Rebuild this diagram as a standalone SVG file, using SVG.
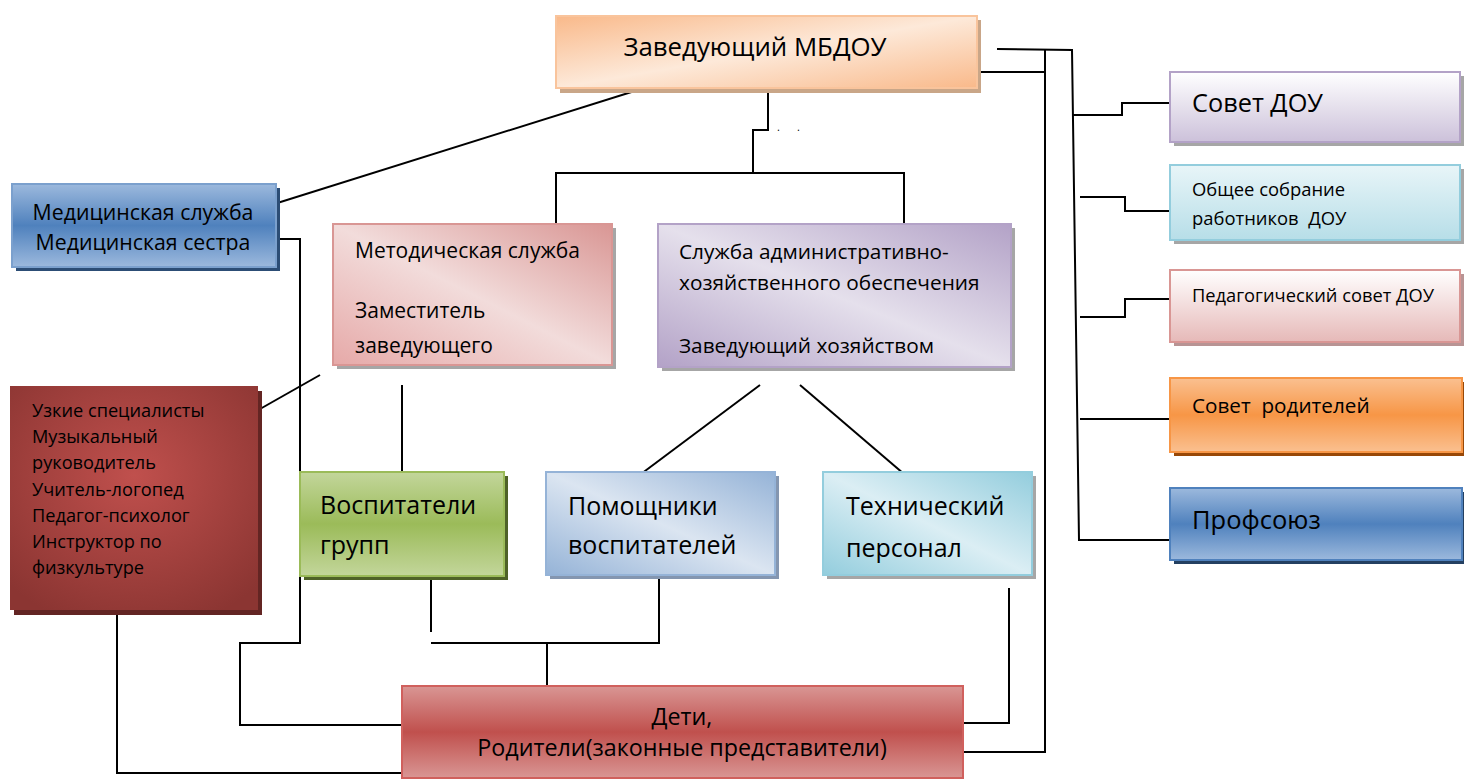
<svg xmlns="http://www.w3.org/2000/svg" width="1464" height="779" viewBox="0 0 1464 779">
<defs>
<linearGradient id="gTop" x1="0" y1="0" x2="1" y2="1"><stop offset="0" stop-color="#f9b98a"/><stop offset="0.5" stop-color="#fde9d9"/><stop offset="1" stop-color="#f9b98a"/></linearGradient>
<linearGradient id="gBlueV" x1="0" y1="0" x2="0" y2="1"><stop offset="0" stop-color="#9cb9dd"/><stop offset="0.5" stop-color="#4f81bd"/><stop offset="1" stop-color="#9cb9dd"/></linearGradient>
<linearGradient id="gPink" x1="0" y1="1" x2="1" y2="0"><stop offset="0" stop-color="#e6a9a8"/><stop offset="0.5" stop-color="#f2dcdb"/><stop offset="1" stop-color="#d99694"/></linearGradient>
<linearGradient id="gPurple" x1="0" y1="1" x2="1" y2="0"><stop offset="0" stop-color="#b3a2c7"/><stop offset="0.5" stop-color="#e5e0ec"/><stop offset="1" stop-color="#b3a2c7"/></linearGradient>
<radialGradient id="gRed" cx="0.5" cy="0.4" r="0.7"><stop offset="0" stop-color="#c0504d"/><stop offset="1" stop-color="#8b3532"/></radialGradient>
<linearGradient id="gGreen" x1="0" y1="0" x2="0" y2="1"><stop offset="0" stop-color="#c3d69b"/><stop offset="0.5" stop-color="#9bbb59"/><stop offset="1" stop-color="#c3d69b"/></linearGradient>
<linearGradient id="gLBlue" x1="0" y1="1" x2="1" y2="0"><stop offset="0" stop-color="#95b3d7"/><stop offset="0.5" stop-color="#dbe5f1"/><stop offset="1" stop-color="#95b3d7"/></linearGradient>
<linearGradient id="gTeal" x1="0" y1="1" x2="1" y2="0"><stop offset="0" stop-color="#93cddd"/><stop offset="0.5" stop-color="#dbeef4"/><stop offset="1" stop-color="#93cddd"/></linearGradient>
<linearGradient id="gRedV" x1="0" y1="0" x2="0" y2="1"><stop offset="0" stop-color="#d99694"/><stop offset="0.5" stop-color="#c0504d"/><stop offset="1" stop-color="#d99694"/></linearGradient>
<linearGradient id="gLav" x1="0" y1="0" x2="0" y2="1"><stop offset="0" stop-color="#ffffff"/><stop offset="1" stop-color="#ccc1da"/></linearGradient>
<linearGradient id="gLTeal" x1="0" y1="0" x2="0" y2="1"><stop offset="0" stop-color="#e8f5f8"/><stop offset="1" stop-color="#b7dee8"/></linearGradient>
<linearGradient id="gLPink" x1="0" y1="0" x2="0" y2="1"><stop offset="0" stop-color="#ffffff"/><stop offset="1" stop-color="#e6b9b8"/></linearGradient>
<linearGradient id="gOrange" x1="0" y1="0" x2="0" y2="1"><stop offset="0" stop-color="#fac090"/><stop offset="0.5" stop-color="#f79646"/><stop offset="1" stop-color="#fac090"/></linearGradient>
</defs>
<style>
text{font-family:"Open Sans","Liberation Sans",sans-serif;fill:#000;white-space:pre}
.sh{stroke:none}
.bx{stroke-width:2}
.c{fill:none;stroke:#000;stroke-width:2}
</style>
<rect width="1464" height="779" fill="#fff"/>

<g id="connectors">
<polyline class="c" points="997,49 1072,50 1079,540 1170,540"/>
<polyline class="c" points="977,72 1045,72"/>
<polyline class="c" points="1045,50 1045,752 962,752"/>
<polyline class="c" points="1073,115 1122,115 1122,103 1170,103"/>
<polyline class="c" points="1080,197 1125,197 1125,211 1170,211"/>
<polyline class="c" points="1080,317 1125,317 1125,299 1170,299"/>
<polyline class="c" points="1080,419 1170,419"/>
<polyline class="c" points="768,88 768,130 753,130 753,173"/>
<polyline class="c" points="556,225 556,173 904,173 904,225"/>
<line class="c" x1="657" y1="84" x2="255" y2="210"/>
<polyline class="c" points="278,239 300,239 300,643 240,643 240,725 402,725"/>
<line class="c" x1="320" y1="375" x2="260" y2="409"/>
<line class="c" x1="402" y1="385" x2="402" y2="473"/>
<line class="c" x1="760" y1="385" x2="641" y2="474"/>
<line class="c" x1="800" y1="385" x2="904" y2="474"/>
<polyline class="c" points="117,610 117,773 402,773"/>
<line class="c" x1="431" y1="576" x2="431" y2="632"/>
<polyline class="c" points="431,643 659,643 659,577"/>
<line class="c" x1="547" y1="643" x2="547" y2="686"/>
<polyline class="c" points="1009,588 1009,723 962,723"/>
<text x="777" y="131" font-size="11">.      .</text>
</g>

<g id="n-head">
<rect class="sh" x="560" y="20" width="421" height="73" fill="#c9a688"/>
<rect class="bx" x="556" y="16" width="421" height="72" fill="url(#gTop)" stroke="#f9c49c"/>
<text x="755" y="56" font-size="25.8" text-anchor="middle">Заведующий МБДОУ</text>
</g>

<g id="n-med">
<rect class="sh" x="16" y="188" width="264" height="83" fill="#2c4d75"/>
<rect class="bx" x="12" y="184" width="264" height="83" fill="url(#gBlueV)" stroke="#7ba0cd"/>
<text x="143" y="219.5" font-size="21.3" text-anchor="middle">Медицинская служба</text>
<text x="143" y="249.5" font-size="21.3" text-anchor="middle">Медицинская сестра</text>
</g>

<g id="n-method">
<rect class="sh" x="337" y="228" width="279" height="141" fill="#a6a6a6"/>
<rect class="bx" x="333" y="224" width="279" height="141" fill="url(#gPink)" stroke="#d99694"/>
<text x="355" y="258" font-size="21">Методическая служба</text>
<text x="355" y="318" font-size="21">Заместитель</text>
<text x="355" y="353" font-size="21">заведующего</text>
</g>

<g id="n-aho">
<rect class="sh" x="662" y="228" width="353" height="143" fill="#a6a6a6"/>
<rect class="bx" x="658" y="224" width="353" height="143" fill="url(#gPurple)" stroke="#b3a2c7"/>
<text x="679" y="259" font-size="20.8">Служба административно-</text>
<text x="679" y="290" font-size="20.8">хозяйственного обеспечения</text>
<text x="679" y="353" font-size="20.8">Заведующий хозяйством</text>
</g>

<g id="n-spec">
<rect class="sh" x="14" y="391" width="248" height="224" fill="#632523"/>
<rect x="10" y="386" width="248" height="224" fill="url(#gRed)"/>
<text font-size="18.2"><tspan x="32" y="416.5">Узкие специалисты</tspan><tspan x="32" y="442.5">Музыкальный</tspan><tspan x="32" y="468.5">руководитель</tspan><tspan x="32" y="495.5">Учитель-логопед</tspan><tspan x="32" y="521.5">Педагог-психолог</tspan><tspan x="32" y="547.5">Инструктор по</tspan><tspan x="32" y="573.5">физкультуре</tspan></text>
</g>

<g id="n-vosp">
<rect class="sh" x="304" y="476" width="204" height="104" fill="#4f6228"/>
<rect class="bx" x="300" y="472" width="204" height="104" fill="url(#gGreen)" stroke="#9bbb59"/>
<text x="320" y="514" font-size="25">Воспитатели</text>
<text x="320" y="554" font-size="25">групп</text>
</g>

<g id="n-pom">
<rect class="sh" x="550" y="476" width="229" height="103" fill="#8496b0"/>
<rect class="bx" x="546" y="472" width="229" height="103" fill="url(#gLBlue)" stroke="#95b3d7"/>
<text x="568" y="515" font-size="25">Помощники</text>
<text x="568" y="554" font-size="25">воспитателей</text>
</g>

<g id="n-tech">
<rect class="sh" x="827" y="476" width="209" height="103" fill="#a6a6a6"/>
<rect class="bx" x="823" y="472" width="209" height="103" fill="url(#gTeal)" stroke="#93cddd"/>
<text x="846" y="515" font-size="25">Технический</text>
<text x="846" y="557" font-size="25">персонал</text>
</g>

<g id="n-deti">
<rect class="bx" x="402" y="686" width="561" height="92" fill="url(#gRedV)" stroke="#d0605d"/>
<text x="682" y="725" font-size="23.3" text-anchor="middle">Дети,</text>
<text x="682" y="756" font-size="23.3" text-anchor="middle">Родители(законные представители)</text>
</g>

<g id="n-sovet">
<rect class="sh" x="1174" y="76" width="290" height="70" fill="#a6a6a6"/>
<rect class="bx" x="1170" y="72" width="290" height="70" fill="url(#gLav)" stroke="#b3a2c7"/>
<text x="1192" y="112" font-size="25.3">Совет ДОУ</text>
</g>

<g id="n-sobr">
<rect class="sh" x="1174" y="169" width="290" height="75" fill="#a6a6a6"/>
<rect class="bx" x="1170" y="165" width="290" height="75" fill="url(#gLTeal)" stroke="#93cddd"/>
<text x="1192" y="196" font-size="18.4">Общее собрание</text>
<text x="1192" y="225" font-size="18.4">работников  ДОУ</text>
</g>

<g id="n-ped">
<rect class="sh" x="1174" y="274" width="290" height="72" fill="#b89494"/>
<rect class="bx" x="1170" y="270" width="290" height="72" fill="url(#gLPink)" stroke="#d99694"/>
<text x="1192" y="302" font-size="18.3">Педагогический совет ДОУ</text>
</g>

<g id="n-rod">
<rect class="sh" x="1174" y="382" width="290" height="74" fill="#984807"/>
<rect class="bx" x="1170" y="378" width="292" height="74" fill="url(#gOrange)" stroke="#f79646"/>
<text x="1192" y="413" font-size="20.7">Совет  родителей</text>
</g>

<g id="n-prof">
<rect class="sh" x="1174" y="492" width="290" height="72" fill="#244061"/>
<rect class="bx" x="1170" y="488" width="292" height="72" fill="url(#gBlueV)" stroke="#4f81bd"/>
<text x="1192" y="529" font-size="25.5">Профсоюз</text>
</g>
</svg>
